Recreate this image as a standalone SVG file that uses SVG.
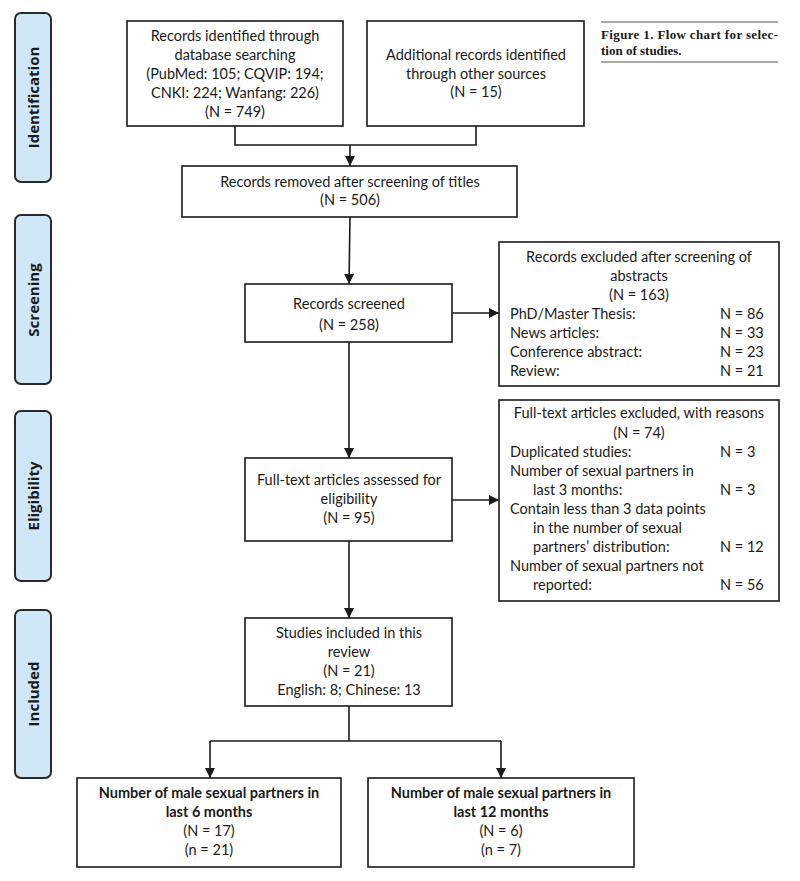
<svg xmlns="http://www.w3.org/2000/svg" width="800" height="881" viewBox="0 0 800 881">
<style>
.bg{fill:#ffffff}
.box{fill:#ffffff;stroke:#1a1a1a;stroke-width:1.6}
.side{fill:#cfe7f7;stroke:#2a2a2a;stroke-width:2}
.t{font-family:Lato,"Liberation Sans",sans-serif;font-size:14.5px;fill:#1a1a1a}
.c{text-anchor:middle}
.b{font-weight:bold}
.sl{font-family:"Open Sans","Liberation Sans",sans-serif;font-size:15px;font-weight:bold;fill:#1a1a1a;text-anchor:middle}
.cap{font-family:"Liberation Serif",serif;font-size:13px;font-weight:bold;fill:#1a1a1a}
.ln{fill:none;stroke:#1a1a1a;stroke-width:1.6}
.rule{stroke:#555;stroke-width:1.2}
</style>
<defs>
<marker id="ah" viewBox="0 0 10 10" refX="10" refY="5" markerWidth="10" markerHeight="10" markerUnits="userSpaceOnUse" orient="auto">
<path d="M0,0 L10,5 L0,10 Z" fill="#1a1a1a"/>
</marker>
</defs>
<rect class="bg" x="0" y="0" width="800" height="881"/>

<g id="caption">
<line class="rule" x1="601" y1="22" x2="778" y2="22"/>
<text class="cap" x="601" y="39" textLength="177" lengthAdjust="spacing">Figure 1. Flow chart for selec-</text>
<text class="cap" x="601" y="55">tion of studies.</text>
<line class="rule" x1="601" y1="62" x2="778" y2="62"/>
</g>

<g id="phase-identification">
<rect class="side" x="15" y="13" width="36" height="169" rx="6"/>
<text class="sl" transform="translate(38.5,97.5) rotate(-90)">Identification</text>
</g>
<g id="phase-screening">
<rect class="side" x="15" y="215" width="36" height="169" rx="6"/>
<text class="sl" transform="translate(38.5,300) rotate(-90)">Screening</text>
</g>
<g id="phase-eligibility">
<rect class="side" x="15" y="411" width="36" height="170" rx="6"/>
<text class="sl" transform="translate(38.5,496) rotate(-90)">Eligibility</text>
</g>
<g id="phase-included">
<rect class="side" x="15" y="610" width="36" height="168" rx="6"/>
<text class="sl" transform="translate(38.5,694) rotate(-90)">Included</text>
</g>

<g id="connectors">
<polyline class="ln" points="235,126 235,145 476,145 476,126"/>
<line class="ln" x1="350" y1="145" x2="350" y2="166" marker-end="url(#ah)"/>
<line class="ln" x1="350" y1="217" x2="349" y2="284" marker-end="url(#ah)"/>
<line class="ln" x1="452" y1="313" x2="499" y2="313" marker-end="url(#ah)"/>
<line class="ln" x1="349" y1="342" x2="349" y2="458" marker-end="url(#ah)"/>
<line class="ln" x1="452" y1="500" x2="499" y2="500" marker-end="url(#ah)"/>
<line class="ln" x1="349" y1="541" x2="349" y2="618" marker-end="url(#ah)"/>
<polyline class="ln" points="349,706 349,741"/>
<line class="ln" x1="210" y1="741" x2="501" y2="741"/>
<line class="ln" x1="210" y1="741" x2="210" y2="778" marker-end="url(#ah)"/>
<line class="ln" x1="501" y1="741" x2="501" y2="778" marker-end="url(#ah)"/>
</g>

<g id="node-db">
<rect class="box" x="127" y="21" width="216" height="105"/>
<text class="t c" x="235" y="41">Records identified through</text>
<text class="t c" x="235" y="60">database searching</text>
<text class="t c" x="235" y="79">(PubMed: 105; CQVIP: 194;</text>
<text class="t c" x="235" y="98">CNKI: 224; Wanfang: 226)</text>
<text class="t c" x="235" y="117">(N = 749)</text>
</g>

<g id="node-other">
<rect class="box" x="367" y="21" width="217" height="105"/>
<text class="t c" x="476" y="60">Additional records identified</text>
<text class="t c" x="476" y="79">through other sources</text>
<text class="t c" x="476" y="97">(N = 15)</text>
</g>

<g id="node-removed">
<rect class="box" x="182" y="166" width="335" height="51"/>
<text class="t c" x="350" y="187">Records removed after screening of titles</text>
<text class="t c" x="350" y="205">(N = 506)</text>
</g>

<g id="node-screened">
<rect class="box" x="245" y="284" width="207" height="58"/>
<text class="t c" x="349" y="309">Records screened</text>
<text class="t c" x="349" y="330">(N = 258)</text>
</g>

<g id="node-excluded-abstracts">
<rect class="box" x="499" y="242" width="280" height="144"/>
<text class="t c" x="639" y="262">Records excluded after screening of</text>
<text class="t c" x="639" y="281">abstracts</text>
<text class="t c" x="639" y="300">(N = 163)</text>
<text class="t" x="510" y="319">PhD/Master Thesis:</text>
<text class="t" x="720" y="319">N = 86</text>
<text class="t" x="510" y="338">News articles:</text>
<text class="t" x="720" y="338">N = 33</text>
<text class="t" x="510" y="357">Conference abstract:</text>
<text class="t" x="720" y="357">N = 23</text>
<text class="t" x="510" y="376">Review:</text>
<text class="t" x="720" y="376">N = 21</text>
</g>

<g id="node-fulltext">
<rect class="box" x="245" y="458" width="207" height="83"/>
<text class="t c" x="349" y="485">Full-text articles assessed for</text>
<text class="t c" x="349" y="504">eligibility</text>
<text class="t c" x="349" y="523">(N = 95)</text>
</g>

<g id="node-excluded-fulltext">
<rect class="box" x="499" y="400" width="280" height="201"/>
<text class="t c" x="639" y="418">Full-text articles excluded, with reasons</text>
<text class="t c" x="639" y="438">(N = 74)</text>
<text class="t" x="510" y="457">Duplicated studies:</text>
<text class="t" x="720" y="457">N = 3</text>
<text class="t" x="510" y="476">Number of sexual partners in</text>
<text class="t" x="533" y="495">last 3 months:</text>
<text class="t" x="720" y="495">N = 3</text>
<text class="t" x="510" y="514">Contain less than 3 data points</text>
<text class="t" x="533" y="533">in the number of sexual</text>
<text class="t" x="533" y="552">partners’ distribution:</text>
<text class="t" x="720" y="552">N = 12</text>
<text class="t" x="510" y="571">Number of sexual partners not</text>
<text class="t" x="533" y="590">reported:</text>
<text class="t" x="720" y="590">N = 56</text>
</g>

<g id="node-included">
<rect class="box" x="245" y="618" width="207" height="88"/>
<text class="t c" x="349" y="638">Studies included in this</text>
<text class="t c" x="349" y="657">review</text>
<text class="t c" x="349" y="676">(N = 21)</text>
<text class="t c" x="349" y="695">English: 8; Chinese: 13</text>
</g>

<g id="node-6months">
<rect class="box" x="77" y="778" width="264" height="89"/>
<text class="t c b" x="209" y="798">Number of male sexual partners in</text>
<text class="t c b" x="209" y="817">last 6 months</text>
<text class="t c" x="209" y="836">(N = 17)</text>
<text class="t c" x="209" y="855">(n = 21)</text>
</g>

<g id="node-12months">
<rect class="box" x="368" y="778" width="266" height="89"/>
<text class="t c b" x="501" y="798">Number of male sexual partners in</text>
<text class="t c b" x="501" y="817">last 12 months</text>
<text class="t c" x="501" y="836">(N = 6)</text>
<text class="t c" x="501" y="855">(n = 7)</text>
</g>
</svg>
